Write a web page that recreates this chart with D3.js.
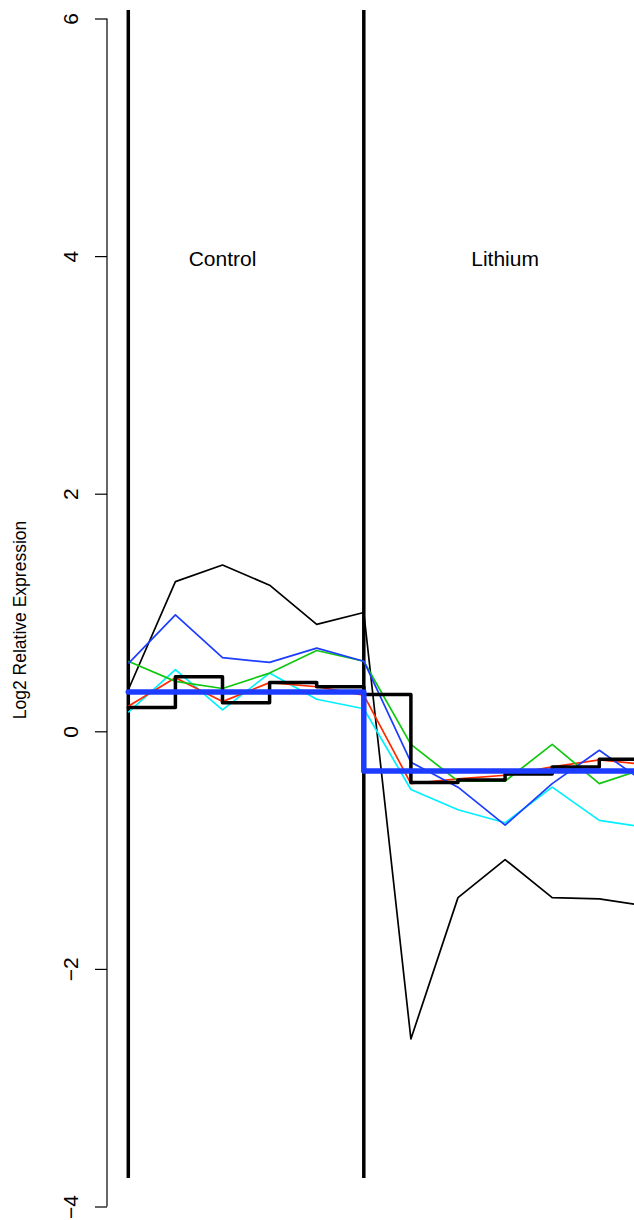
<!DOCTYPE html>
<html>
<head>
<meta charset="utf-8">
<script src="https://cdn.jsdelivr.net/npm/d3@7"></script>
<style>
  html, body { margin: 0; padding: 0; background: #fff; }
  svg { display: block; }
  text { font-family: "Liberation Sans", Arial, Helvetica, sans-serif; fill: #000; }
</style>
</head>
<body>
<script>
// ---- data ----
const timepoints = [0, 1, 2, 3, 4, 5, 6, 7, 8, 9, 10, 11];
const groupLabels = ["Control", "Lithium"];
const groupLabelAt = [2, 8];
const groupStarts = [0, 5];
const yTicks = [-4, -2, 0, 2, 4, 6];
const yTitle = "Log2 Relative Expression";

const geneBlack = [0.35, 1.26, 1.40, 1.23, 0.90, 1.00, -2.59, -1.40, -1.08, -1.40, -1.41, -1.47];
const geneRed   = [0.21, 0.45, 0.25, 0.41, 0.375, 0.305, -0.44, -0.40, -0.37, -0.30, -0.24, -0.28];
const geneGreen = [0.59, 0.42, 0.36, 0.49, 0.68, 0.59, -0.11, -0.42, -0.42, -0.11, -0.44, -0.31];
const geneBlue  = [0.57, 0.98, 0.62, 0.58, 0.70, 0.59, -0.26, -0.47, -0.79, -0.44, -0.16, -0.44];
const geneCyan  = [0.16, 0.52, 0.18, 0.49, 0.27, 0.19, -0.49, -0.66, -0.77, -0.47, -0.75, -0.81];
const medianStep = [0.20, 0.46, 0.24, 0.41, 0.375, 0.31, -0.43, -0.41, -0.36, -0.30, -0.235, -0.235];
const groupMeans = [0.33, -0.335];

// ---- layout ----
const W = 634, H = 1220;
const svg = d3.select("body").append("svg").attr("width", W).attr("height", H);

const x = d3.scaleLinear().domain([0, 10]).range([128.3, 599.3]);
const y = d3.scaleLinear().domain([-4, 6]).range([1206.5, 18.5]);
const plotTop = 10, plotBottom = 1178;

// y axis
const axis = d3.axisLeft(y).tickValues(yTicks).tickSize(12).tickFormat(d => d < 0 ? "\u2212" + Math.abs(d) : d);
const gAxis = svg.append("g").attr("transform", "translate(107,0)").call(axis);
gAxis.select(".domain").attr("stroke", "#000").attr("stroke-width", 1.2).attr("d", `M0,${y(6)}V${y(-4)}`);
gAxis.selectAll(".tick line").attr("stroke", "#000").attr("stroke-width", 1.2);
gAxis.selectAll(".tick text").remove();
gAxis.selectAll(".tick").append("text")
  .attr("transform", "translate(-29,0) rotate(-90)")
  .attr("text-anchor", "middle")
  .attr("font-size", 21)
  .text(d => d < 0 ? "\u2212" + Math.abs(d) : d);

svg.append("text")
  .attr("transform", `translate(26,620) rotate(-90)`)
  .attr("text-anchor", "middle")
  .attr("font-size", 17.5)
  .text(yTitle);

// vertical group separators
svg.selectAll("line.sep").data(groupStarts).enter().append("line")
  .attr("class", "sep")
  .attr("x1", d => x(d)).attr("x2", d => x(d))
  .attr("y1", plotTop).attr("y2", plotBottom)
  .attr("stroke", "#000").attr("stroke-width", 3.5);

// group labels
svg.selectAll("text.grp").data(groupLabels).enter().append("text")
  .attr("class", "grp")
  .attr("x", (d, i) => x(groupLabelAt[i]))
  .attr("y", 266)
  .attr("text-anchor", "middle")
  .attr("font-size", 21)
  .text(d => d);

// gene lines
const line = d3.line().x((d, i) => x(timepoints[i])).y(d => y(d));
const genes = [
  { v: geneBlack, c: "#000000" },
  { v: geneCyan,  c: "#00f0ff" },
  { v: geneRed,   c: "#ff2a00" },
  { v: geneGreen, c: "#10c810" },
  { v: geneBlue,  c: "#1c3cff" }
];
svg.selectAll("path.gene").data(genes).enter().append("path")
  .attr("class", "gene")
  .attr("d", d => line(d.v))
  .attr("fill", "none")
  .attr("stroke", d => d.c)
  .attr("stroke-width", 1.7)
  .attr("stroke-linejoin", "round");

// median step line
const stepLine = d3.line().curve(d3.curveStepAfter).x((d, i) => x(timepoints[i])).y(d => y(d));
svg.append("path")
  .attr("d", stepLine(medianStep))
  .attr("fill", "none").attr("stroke", "#000").attr("stroke-width", 3.5)
  .attr("stroke-linecap", "round").attr("stroke-linejoin", "round");

// group mean step line
const meanVals = timepoints.map(t => t < groupStarts[1] ? groupMeans[0] : groupMeans[1]);
svg.append("path")
  .attr("d", stepLine(meanVals))
  .attr("fill", "none").attr("stroke", "#1c3cff").attr("stroke-width", 5.5)
  .attr("stroke-linecap", "round").attr("stroke-linejoin", "round");
</script>
</body>
</html>
